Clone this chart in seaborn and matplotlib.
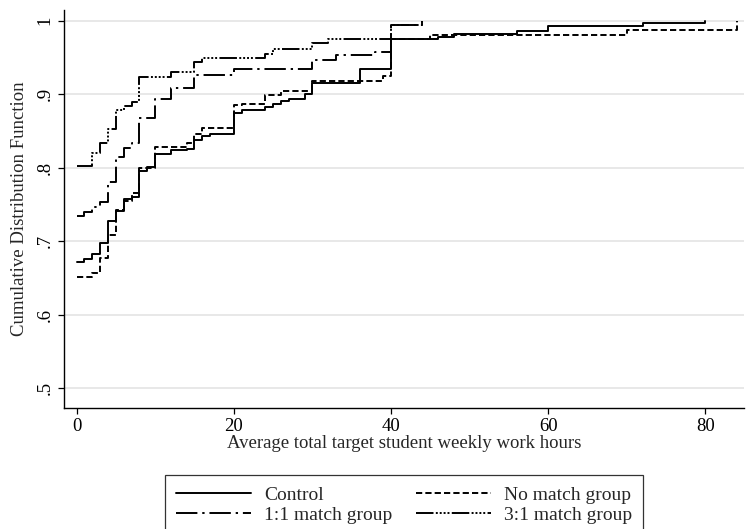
import numpy as np
import pandas as pd
import matplotlib
matplotlib.use("Agg")
import matplotlib.pyplot as plt
import seaborn as sns

# 누적분포 데이터
control_x = [0, 1, 2, 3, 4, 5, 6, 7, 8, 9, 10, 12, 14, 15, 16, 17, 20, 21, 24, 25,
             26, 27, 29, 30, 36, 40, 46, 48, 56, 60, 72, 80]
control_y = [0.672, 0.676, 0.683, 0.697, 0.727, 0.741, 0.757, 0.760, 0.796, 0.801,
             0.819, 0.824, 0.826, 0.837, 0.843, 0.846, 0.874, 0.878, 0.883, 0.887,
             0.891, 0.894, 0.900, 0.915, 0.934, 0.975, 0.978, 0.982, 0.986, 0.993,
             0.997, 1.0]

nomatch_x = [0, 2, 3, 4, 5, 6, 7, 8, 10, 14, 15, 16, 20, 21, 24, 26, 30, 39, 40,
             45, 70, 84]
nomatch_y = [0.651, 0.657, 0.677, 0.708, 0.742, 0.755, 0.765, 0.799, 0.828, 0.834,
             0.846, 0.854, 0.885, 0.887, 0.899, 0.905, 0.918, 0.925, 0.975, 0.981,
             0.987, 1.0]

match11_x = [0, 1, 2, 3, 4, 5, 6, 7, 8, 10, 12, 15, 20, 30, 33, 38, 40, 44]
match11_y = [0.734, 0.740, 0.747, 0.753, 0.780, 0.814, 0.827, 0.833, 0.868, 0.894,
             0.908, 0.926, 0.934, 0.946, 0.954, 0.958, 0.994, 1.0]

match31_x = [0, 2, 3, 4, 5, 6, 7, 8, 12, 15, 16, 24, 25, 30, 32, 40, 44]
match31_y = [0.802, 0.820, 0.834, 0.853, 0.878, 0.884, 0.890, 0.924, 0.930, 0.944,
             0.949, 0.955, 0.961, 0.969, 0.975, 0.994, 1.0]

group_names = ["Control", "No match group", "1:1 match group", "3:1 match group"]

xticks = [0, 20, 40, 60, 80]
yticks = [0.5, 0.6, 0.7, 0.8, 0.9, 1.0]
ytick_labels = [".5", ".6", ".7", ".8", ".9", "1"]

sns.set_style("white")
plt.rcParams["font.family"] = ["Liberation Serif", "DejaVu Serif"]

fig = plt.figure(figsize=(7.46, 5.29), dpi=100)
ax = fig.add_axes([64 / 746, 1 - 407.6 / 529, 680 / 746, (407.6 - 10) / 529])

# 선 스타일
styles = {
    "Control": "-",
    "No match group": (0, (3.2, 1.6)),
    "1:1 match group": (0, (11, 2.5, 1.2, 2.5)),
    "3:1 match group": (0, (9, 1.2, 1, 1, 1, 1, 1, 1, 1, 1.2)),
}
series = {
    "Control": (control_x, control_y),
    "No match group": (nomatch_x, nomatch_y),
    "1:1 match group": (match11_x, match11_y),
    "3:1 match group": (match31_x, match31_y),
}

for name in group_names:
    xs, ys = series[name]
    df = pd.DataFrame({"x": xs, "y": ys})
    sns.lineplot(data=df, x="x", y="y", ax=ax, color="black", lw=1.4,
                 linestyle=styles[name], drawstyle="steps-post", label=name)

if ax.get_legend() is not None:
    ax.get_legend().remove()

ax.set_xlim(-1.6, 84.9)
ax.set_ylim(0.4733, 1.0146)
ax.set_xticks(xticks)
ax.set_xticklabels([str(t) for t in xticks])
ax.set_yticks(yticks)
ax.set_yticklabels(ytick_labels, rotation=90, va="center")
for y in yticks:
    ax.axhline(y, color="#e6e6e6", lw=1.3, zorder=0)

for s in ["top", "right"]:
    ax.spines[s].set_visible(False)
for s in ["left", "bottom"]:
    ax.spines[s].set_color("black")
    ax.spines[s].set_linewidth(1.0)

ax.tick_params(axis="both", direction="out", length=4, width=0.9, color="black",
               labelsize=13.5, labelcolor="black", left=True, bottom=True)
ax.set_xlabel("Average total target student weekly work hours", fontsize=13.5, labelpad=0)
ax.set_ylabel("Cumulative Distribution Function", fontsize=13.5, labelpad=6)

handles, labels = ax.get_legend_handles_labels()
order = ["Control", "1:1 match group", "No match group", "3:1 match group"]
hmap = dict(zip(labels, handles))
leg = fig.legend([hmap[k] for k in order], order, loc="lower center",
                 bbox_to_anchor=(404 / 746, -16 / 529), ncol=2, fontsize=14,
                 frameon=True, fancybox=False, edgecolor="black", handlelength=3.85,
                 columnspacing=1.2, labelspacing=0.1, borderpad=0.6, handletextpad=0.67)
leg.get_frame().set_linewidth(0.9)

fig.savefig("out.png", dpi=100)
